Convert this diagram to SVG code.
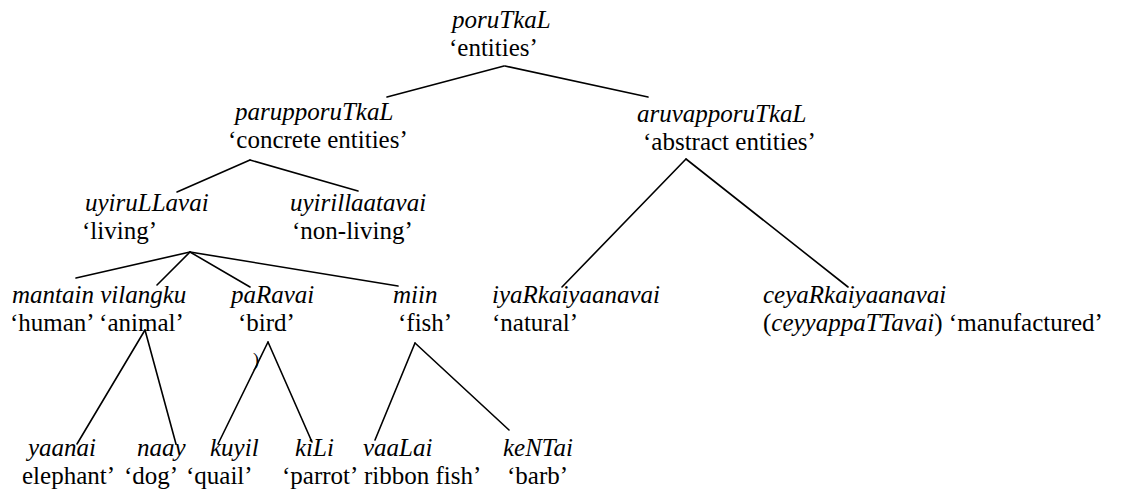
<svg xmlns="http://www.w3.org/2000/svg" width="1131" height="491" viewBox="0 0 1131 491">
<style>
.t{font-family:"Liberation Serif","Times New Roman",serif;font-size:25px;fill:#000}
.i{font-style:italic}
.c line{stroke:#000;stroke-width:1.6;stroke-linecap:round}
</style>
<rect width="1131" height="491" fill="#fff"/>
<g id="connectors" class="c">
<line x1="504" y1="66" x2="387" y2="97"/>
<line x1="505" y1="66" x2="648" y2="97"/>
<line x1="250" y1="160" x2="177" y2="192"/>
<line x1="250" y1="160" x2="358" y2="191"/>
<line x1="686" y1="159" x2="562" y2="287"/>
<line x1="686" y1="159" x2="848" y2="287"/>
<line x1="190" y1="252" x2="76" y2="278"/>
<line x1="190" y1="252" x2="157" y2="285"/>
<line x1="190" y1="252" x2="250" y2="287"/>
<line x1="190" y1="252" x2="398" y2="286"/>
<line x1="145" y1="330" x2="77" y2="444"/>
<line x1="145" y1="330" x2="176" y2="444"/>
<line x1="268" y1="342" x2="218" y2="444"/>
<line x1="268" y1="342" x2="312" y2="442"/>
<line x1="415" y1="343" x2="375" y2="440"/>
<line x1="415" y1="343" x2="509" y2="430"/>
</g>
<g class="t">
<g id="n-entities"><text class="t i" x="452" y="28">poruTkaL</text><text class="t" x="449" y="56">‘entities’</text></g>
<g id="n-concrete"><text class="t i" x="235" y="120">parupporuTkaL</text><text class="t" x="228" y="148">‘concrete entities’</text></g>
<g id="n-abstract"><text class="t i" x="637" y="122">aruvapporuTkaL</text><text class="t" x="643" y="150">‘abstract entities’</text></g>
<g id="n-living"><text class="t i" x="85" y="211">uyiruLLavai</text><text class="t" x="82" y="239">‘living’</text></g>
<g id="n-nonliving"><text class="t i" x="290" y="211">uyirillaatavai</text><text class="t" x="292" y="239">‘non-living’</text></g>
<g id="n-human-animal"><text class="t i" x="12" y="303">mantain vilangku</text><text class="t" x="10" y="331">‘human’ ‘animal’</text></g>
<g id="n-bird"><text class="t i" x="231" y="303">paRavai</text><text class="t" x="238" y="331">‘bird’</text></g>
<g id="n-fish"><text class="t i" x="393" y="303">miin</text><text class="t" x="398" y="331">‘fish’</text></g>
<g id="n-natural"><text class="t i" x="492" y="303">iyaRkaiyaanavai</text><text class="t" x="492" y="331">‘natural’</text></g>
<g id="n-manufactured"><text class="t i" x="763" y="303">ceyaRkaiyaanavai</text><text class="t" x="763" y="331">(<tspan class="i">ceyyappaTTavai</tspan>) ‘manufactured’</text></g>
<text class="t" x="253" y="366" style="font-size:18px">)</text>
<g id="n-elephant"><text class="t i" x="28" y="456">yaanai</text><text class="t" x="22" y="484">elephant’</text></g>
<g id="n-dog"><text class="t i" x="137" y="456">naay</text><text class="t" x="124" y="484">‘dog’</text></g>
<g id="n-quail"><text class="t i" x="210" y="456">kuyil</text><text class="t" x="186" y="484">‘quail’</text></g>
<g id="n-parrot"><text class="t i" x="295" y="456">kiLi</text><text class="t" x="282" y="484">‘parrot’</text></g>
<g id="n-ribbonfish"><text class="t i" x="363" y="456">vaaLai</text><text class="t" x="364" y="484">ribbon fish’</text></g>
<g id="n-barb"><text class="t i" x="503" y="456">keNTai</text><text class="t" x="507" y="484">‘barb’</text></g>
</g>
</svg>
